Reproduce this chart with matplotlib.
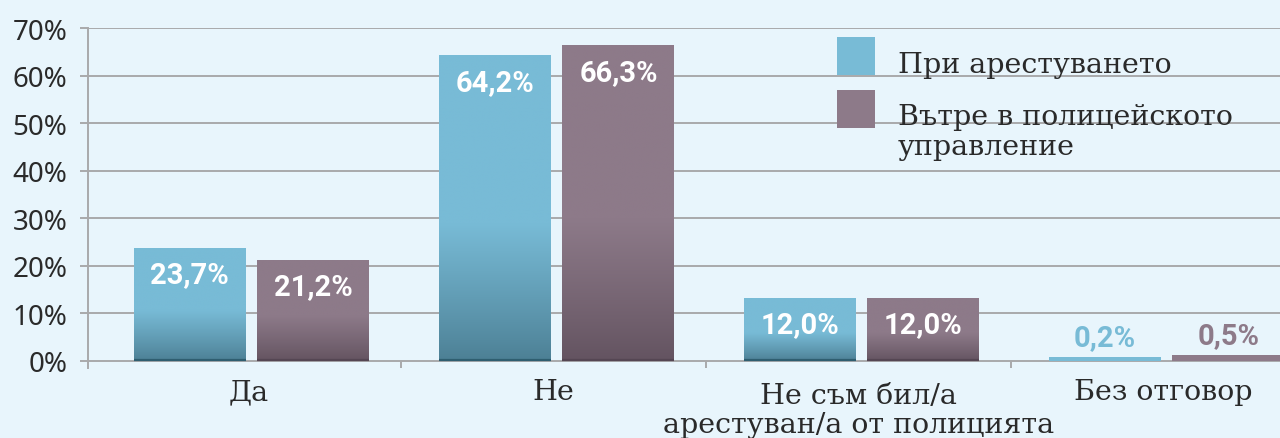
import numpy as np
import matplotlib
matplotlib.use("Agg")
import matplotlib.pyplot as plt
import matplotlib.transforms as mtransforms
from matplotlib.colors import to_rgb
from matplotlib.patches import Rectangle

# data
categories = ["Да", "Не", "Не съм бил/а\nарестуван/а от полицията", "Без отговор"]
series_names = ["При арестуването", "Вътре в полицейското\nуправление"]
arrest_vals = [23.7, 64.2, 13.2, 0.9]
station_vals = [21.2, 66.3, 13.2, 1.3]
arrest_labels = ["23,7%", "64,2%", "12,0%", "0,2%"]
station_labels = ["21,2%", "66,3%", "12,0%", "0,5%"]
yticks = [0, 10, 20, 30, 40, 50, 60, 70]

BG = "#e8f5fc"
BLUE, BLUE_DK, BLUE_LINE = "#78bbd6", "#4c7f94", "#2f5e70"
PURPLE, PURPLE_DK, PURPLE_LINE = "#8d7a89", "#635360", "#554653"
GRID = "#a9a9ab"
TXT = "#2a2a2a"
W, H = 1280, 439

fig = plt.figure(figsize=(W / 100, H / 100), dpi=100, facecolor=BG)
ax = fig.add_axes([88 / W, 70 / H, 1228 / W, 340 / H], facecolor=BG)


def px(x, y):
    return x / W, 1 - y / H


def grad_bar(bar, base, dark, line):
    x, w, h = bar.get_x(), bar.get_width(), bar.get_height()
    if h < 3:
        return
    f = np.linspace(0, 1, 300)[:, None]
    t = np.clip(f / 0.45, 0, 1) ** 0.9
    b, d = np.array(to_rgb(base)), np.array(to_rgb(dark))
    img = d + (b - d) * t
    ax.imshow(img[:, None, :], extent=[x, x + w, 0, h], origin="lower",
              aspect="auto", zorder=3, interpolation="bilinear")
    ax.hlines(0.2, x, x + w, color=line, linewidth=1.6, zorder=4)
    bar.set_facecolor("none")


xs = np.arange(len(categories))
bw = 0.367
bars1 = ax.bar(xs - 0.193, arrest_vals, bw, color=BLUE, zorder=3, linewidth=0)
bars2 = ax.bar(xs + 0.213, station_vals, bw, color=PURPLE, zorder=3, linewidth=0)

for bars, labels, base, dark, line in [(bars1, arrest_labels, BLUE, BLUE_DK, BLUE_LINE),
                                       (bars2, station_labels, PURPLE, PURPLE_DK, PURPLE_LINE)]:
    for bar, lab in zip(bars, labels):
        grad_bar(bar, base, dark, line)
        cx = bar.get_x() + bar.get_width() / 2
        h = bar.get_height()
        if h < 3:
            ax.annotate(lab, (cx, h), xytext=(0, 4), textcoords="offset points",
                        ha="center", va="bottom", fontsize=21, fontweight="bold",
                        family="Roboto", color=base, zorder=5)
        else:
            ax.annotate(lab, (cx, h), xytext=(0, -19), textcoords="offset points",
                        ha="center", va="center", fontsize=21, fontweight="bold",
                        family="Roboto", color="white", zorder=5)

ax.set_xlim(-0.5 - 8 / 305, 3.5)
ax.set_ylim(-1.5, 70)

ax.set_yticks(yticks)
ax.set_yticklabels([f"{v}%" for v in yticks], family="Noto Sans", fontsize=20, color=TXT)
ax.set_xticks([])
ax.tick_params(axis="y", length=5.8, width=1.4, color=GRID, pad=9)
ax.grid(axis="y", color=GRID, linewidth=1.4)
ax.set_axisbelow(True)
for s in ["top", "right", "bottom"]:
    ax.spines[s].set_visible(False)
ax.spines["left"].set_color(GRID)
ax.spines["left"].set_linewidth(1.4)
ax.vlines([0.5, 1.5, 2.5], -1.5, 0, color=GRID, linewidth=1.4, zorder=2)

# category labels under the axis (va=baseline sits on the last line)
trans = mtransforms.blended_transform_factory(ax.transData, fig.transFigure)
for x, cat in zip(xs, categories):
    base_y = 400 + 33 * cat.count("\n")
    ax.text(x, 1 - base_y / H, cat, transform=trans, ha="center", va="baseline",
            family="DejaVu Serif", fontsize=20.5, color=TXT, linespacing=1.1)

# legend
fig.patches.append(Rectangle(px(837, 76), 38 / W, 38 / H, transform=fig.transFigure,
                             facecolor=BLUE, edgecolor="none"))
fig.patches.append(Rectangle(px(837, 129), 38 / W, 38 / H, transform=fig.transFigure,
                             facecolor=PURPLE, edgecolor="none"))
fig.text(*px(898, 73), series_names[0], ha="left", va="baseline",
         family="DejaVu Serif", fontsize=20.5, color=TXT)
fig.text(*px(898, 155), series_names[1], ha="left", va="baseline",
         family="DejaVu Serif", fontsize=20.5, color=TXT, linespacing=1.15)

fig.savefig("out.png", dpi=100, facecolor=BG)
